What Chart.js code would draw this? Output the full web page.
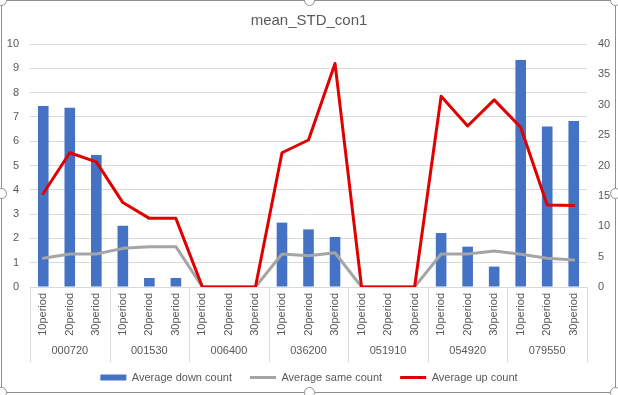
<!DOCTYPE html>
<html>
<head>
<meta charset="utf-8">
<script src="https://cdn.jsdelivr.net/npm/chart.js@4.4.1/dist/chart.umd.min.js"></script>
<style>
  html, body { margin: 0; padding: 0; background: #ffffff; }
  #wrap { position: relative; width: 618px; height: 395px; overflow: hidden; }
  #frame { position: absolute; left: 1px; top: 0px; width: 613px; height: 391px; border: 1px solid #8f8f8f; border-radius: 3px; box-sizing: content-box; pointer-events: none; }
  .h { position: absolute; width: 9px; height: 9px; border: 1px solid #8f8f8f; border-radius: 50%; background: #fff; }
  canvas { position: absolute; left: 0; top: 0; }
</style>
</head>
<body>
<div id="wrap">
  <canvas id="c" width="618" height="395"></canvas>
  <div id="frame"></div>
  <div class="h" style="left:-4px;top:188px"></div>
  <div class="h" style="left:610px;top:188px"></div>
  <div class="h" style="left:304px;top:387px"></div>
  <div class="h" style="left:304px;top:-5px"></div>
  <div class="h" style="left:-4px;top:-5px"></div>
  <div class="h" style="left:610px;top:-5px"></div>
  <div class="h" style="left:-4px;top:387px"></div>
  <div class="h" style="left:610px;top:387px"></div>
</div>
<script>
const chartTitle = 'mean_STD_con1';
const groups = ['000720', '001530', '006400', '036200', '051910', '054920', '079550'];
const periods = ['10period', '20period', '30period'];
const seriesNames = ['Average down count', 'Average same count', 'Average up count'];
const downCount = [7.45, 7.38, 5.43, 2.52, 0.37, 0.37, 0, 0, 0, 2.65, 2.37, 2.06, 0, 0, 0, 2.22, 1.66, 0.84, 9.34, 6.6, 6.83];
const sameCount = [1.18, 1.36, 1.36, 1.59, 1.66, 1.66, 0, 0, 0, 1.36, 1.29, 1.41, 0, 0, 0, 1.36, 1.36, 1.48, 1.35, 1.18, 1.11];
const upCount = [15.4, 22.1, 20.6, 13.9, 11.3, 11.3, 0, 0, 0, 22.1, 24.2, 36.8, 0, 0, 0, 31.4, 26.5, 30.8, 26.3, 13.5, 13.4];

const labels = groups.flatMap(() => periods);
const FONT = '"Liberation Sans", Arial, sans-serif';
const TXT = '#595959';

const groupPlugin = {
  id: 'groupAxis',
  afterDraw(chart) {
    const x = chart.scales.x, ctx = chart.ctx;
    const top = chart.chartArea.bottom;
    const w = x.getPixelForValue(1) - x.getPixelForValue(0);
    ctx.save();
    ctx.strokeStyle = '#d9d9d9';
    ctx.lineWidth = 1;
    for (let g = 0; g <= groups.length; g++) {
      const px = Math.round(x.getPixelForValue(g * 3) - w / 2) + 0.5;
      ctx.beginPath();
      ctx.moveTo(px, top);
      ctx.lineTo(px, 362);
      ctx.stroke();
    }
    ctx.fillStyle = TXT;
    ctx.font = '11px ' + FONT;
    ctx.textAlign = 'center';
    ctx.textBaseline = 'middle';
    groups.forEach((g, i) => ctx.fillText(g, x.getPixelForValue(i * 3 + 1), 351));
    ctx.restore();
  }
};

new Chart(document.getElementById('c'), {
  data: {
    labels: labels,
    datasets: [
      { type: 'bar', label: seriesNames[0], data: downCount, backgroundColor: '#4472C4', borderWidth: 0,
        yAxisID: 'y', order: 3, pointStyle: 'rect', categoryPercentage: 1.0, barPercentage: 0.4 },
      { type: 'line', label: seriesNames[1], data: sameCount, borderColor: '#A5A5A5', backgroundColor: '#A5A5A5',
        borderWidth: 3, pointRadius: 0, tension: 0, yAxisID: 'y', order: 2, pointStyle: 'line',
        borderCapStyle: 'round', borderJoinStyle: 'round' },
      { type: 'line', label: seriesNames[2], data: upCount, borderColor: '#E00000', backgroundColor: '#E00000',
        borderWidth: 3, pointRadius: 0, tension: 0, yAxisID: 'y1', order: 1, pointStyle: 'line',
        borderCapStyle: 'round', borderJoinStyle: 'round' }
    ]
  },
  options: {
    responsive: false,
    animation: false,
    layout: { padding: { left: 0, right: 0, top: 0, bottom: 2 } },
    plugins: {
      title: { display: true, text: chartTitle, color: TXT, font: { family: FONT, size: 15, weight: 'normal' },
               padding: { top: 12, bottom: 14 } },
      legend: {
        position: 'bottom',
        labels: {
          usePointStyle: true, pointStyleWidth: 26, boxHeight: 6, padding: 18,
          color: TXT, font: { family: FONT, size: 11 },
          sort: (a, b) => a.datasetIndex - b.datasetIndex
        }
      },
      tooltip: { enabled: false }
    },
    scales: {
      x: {
        type: 'category',
        offset: true,
        grid: { display: false, drawTicks: false },
        border: { display: true, color: '#d9d9d9' },
        ticks: { autoSkip: false, minRotation: 90, maxRotation: 90, padding: 6, color: TXT, font: { family: FONT, size: 11 } },
        afterFit: (s) => { s.height = 67; }
      },
      y: {
        position: 'left', min: 0, max: 10,
        grid: { color: '#d9d9d9', drawTicks: false },
        border: { display: false },
        ticks: { stepSize: 1, padding: 11, color: TXT, font: { family: FONT, size: 11 } },
        afterFit: (s) => { s.width = 30; }
      },
      y1: {
        position: 'right', min: 0, max: 40,
        grid: { drawOnChartArea: false, drawTicks: false },
        border: { display: false },
        ticks: { stepSize: 5, padding: 11, color: TXT, font: { family: FONT, size: 11 } },
        afterFit: (s) => { s.width = 31; }
      }
    }
  },
  plugins: [groupPlugin]
});
</script>
</body>
</html>
